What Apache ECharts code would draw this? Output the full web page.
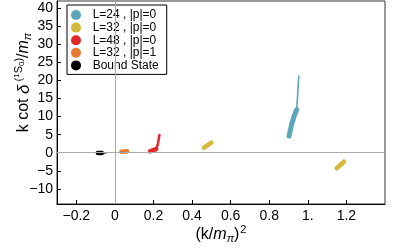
<!DOCTYPE html>
<html>
<head>
<meta charset="utf-8">
<script src="https://cdn.jsdelivr.net/npm/echarts@6/dist/echarts.min.js"></script>
<style>html,body{margin:0;padding:0;background:#fff}#c{width:399px;height:249px}</style>
</head>
<body>
<div id="c"></div>
<script>
// ---- data ----
const xTicks = [-0.2, 0, 0.2, 0.4, 0.6, 0.8, 1.0, 1.2];
const yTicks = [-10, -5, 0, 5, 10, 15, 20, 25, 30, 35, 40];
const seriesNames = ['L=24 , |p|=0', 'L=32 , |p|=0', 'L=48 , |p|=0', 'L=32 , |p|=1', 'Bound State'];
// band centre lines (x=(k/mπ)^2, y=k cot δ/mπ)
const teal24Core = [[0.903, 4.6], [0.916, 7.8], [0.930, 10.3], [0.942, 11.9]];
const teal24Tail = [[0.942, 11.9], [0.948, 16.5], [0.953, 21.2]];
const yellow32 = [[0.462, 1.4], [0.500, 2.8], null, [1.150, -4.3], [1.187, -2.5]];
const red48Core = [[0.182, 0.4], [0.214, 1.0]];
const red48Tail = [[0.214, 1.0], [0.222, 2.2], [0.231, 4.9]];
const orange32p1 = [[0.034, 0.25], [0.063, 0.4]];
const boundCore = [[-0.088, -0.1], [-0.068, -0.1]];
const boundTail = [[-0.068, -0.1], [-0.046, 0.0]];

const colors = ['#5aa6b6', '#d5b73c', '#e2262a', '#e97a31', '#000000'];
const FONT = 'Liberation Sans, Arial, sans-serif';

function fmt(v) {
  let s = (Math.abs(v) === 1) ? '1.' : String(Math.round(v * 10) / 10);
  return s.replace('-', '\u2212');
}

function band(name, data, color, width) {
  return {
    name: name, type: 'line', data: data, symbol: 'none', connectNulls: false,
    silent: true, animation: false,
    lineStyle: { color: color, width: width, cap: 'round', join: 'round' },
    itemStyle: { color: color }
  };
}

const chart = echarts.init(document.getElementById('c'), null, { renderer: 'canvas' });
chart.setOption({
  animation: false,
  textStyle: { fontFamily: FONT },
  grid: {
    left: 57, right: 14, top: 1, bottom: 45, containLabel: false, outerBoundsMode: 'none',
    show: true, borderColor: '#333', borderWidth: 1, backgroundColor: 'transparent'
  },
  legend: {
    orient: 'vertical', left: 67, top: 5,
    padding: [4, 8, 3, 4], itemGap: 0.6, itemWidth: 10, itemHeight: 10,
    icon: 'circle', borderColor: '#000', borderWidth: 1, backgroundColor: '#fff',
    data: seriesNames,
    formatter: function (n) { return '\u00a0\u00a0' + n; },
    textStyle: { fontSize: 12, fontFamily: FONT, color: '#000', lineHeight: 12 }
  },
  xAxis: {
    type: 'value', min: -0.3, max: 1.4,
    axisLine: { show: true, onZero: false, lineStyle: { color: '#000', width: 1 } },
    axisTick: { show: true, inside: true, length: 4, customValues: xTicks, lineStyle: { color: '#000' } },
    axisLabel: { customValues: xTicks, formatter: fmt, fontSize: 14, color: '#000', margin: 5, fontFamily: FONT },
    splitLine: { show: false },
    name: '{p|(k/}{m|m}{s|\u03c0}{p|)}{t|2}', nameLocation: 'middle', nameGap: 20, nameMoveOverlap: false,
    nameTextStyle: {
      rich: {
        p: { fontSize: 16, fontFamily: FONT, color: '#000' },
        m: { fontSize: 16, fontFamily: FONT, fontStyle: 'italic', color: '#000' },
        s: { fontSize: 11, fontFamily: FONT, fontStyle: 'italic', color: '#000', padding: [8, 0, 0, 0] },
        t: { fontSize: 11, fontFamily: FONT, color: '#000', padding: [0, 0, 10, 1] }
      }
    }
  },
  yAxis: {
    type: 'value', min: -14.2, max: 42,
    axisLine: { show: true, onZero: false, lineStyle: { color: '#000', width: 1 } },
    axisTick: { show: true, inside: true, length: 4, customValues: yTicks, lineStyle: { color: '#000' } },
    axisLabel: { customValues: yTicks, formatter: fmt, fontSize: 14, color: '#000', margin: 4, fontFamily: FONT },
    splitLine: { show: false },
    name: '{p|k cot }{d|\u03b4}{u| (}{v|1}{u|S}{w|0}{u|)}{p|/}{m|m}{s|\u03c0}',
    nameLocation: 'middle', nameRotate: 90, nameGap: 22, nameMoveOverlap: false,
    nameTextStyle: {
      padding: [0, 0, 0, 40],
      rich: {
        p: { fontSize: 16, fontFamily: FONT, color: '#000' },
        d: { fontSize: 17, fontFamily: FONT, fontStyle: 'italic', color: '#000' },
        u: { fontSize: 11, fontFamily: FONT, color: '#000', padding: [0, 0, 10, 0] },
        v: { fontSize: 8, fontFamily: FONT, color: '#000', padding: [0, 0, 14, 0] },
        w: { fontSize: 8, fontFamily: FONT, color: '#000', padding: [0, 0, 5, 0] },
        m: { fontSize: 16, fontFamily: FONT, fontStyle: 'italic', color: '#000' },
        s: { fontSize: 11, fontFamily: FONT, fontStyle: 'italic', color: '#000', padding: [8, 0, 0, 0] }
      }
    }
  },
  series: [
    {
      name: 'zero', type: 'line', data: [], silent: true,
      markLine: {
        silent: true, symbol: ['none', 'none'], label: { show: false },
        lineStyle: { color: '#aaa', width: 1, type: 'solid' },
        data: [{ xAxis: 0 }, { yAxis: 0 }]
      }
    },
    band(seriesNames[0], teal24Core, colors[0], 5),
    band(seriesNames[0], teal24Tail, colors[0], 1.6),
    band(seriesNames[1], yellow32, colors[1], 4.5),
    band(seriesNames[2], red48Core, colors[2], 4.5),
    band(seriesNames[2], red48Tail, colors[2], 2.5),
    band(seriesNames[3], orange32p1, colors[3], 4.5),
    band(seriesNames[4], boundCore, colors[4], 4.5),
    band(seriesNames[4], boundTail, colors[4], 1.6)
  ]
});
</script>
</body>
</html>
